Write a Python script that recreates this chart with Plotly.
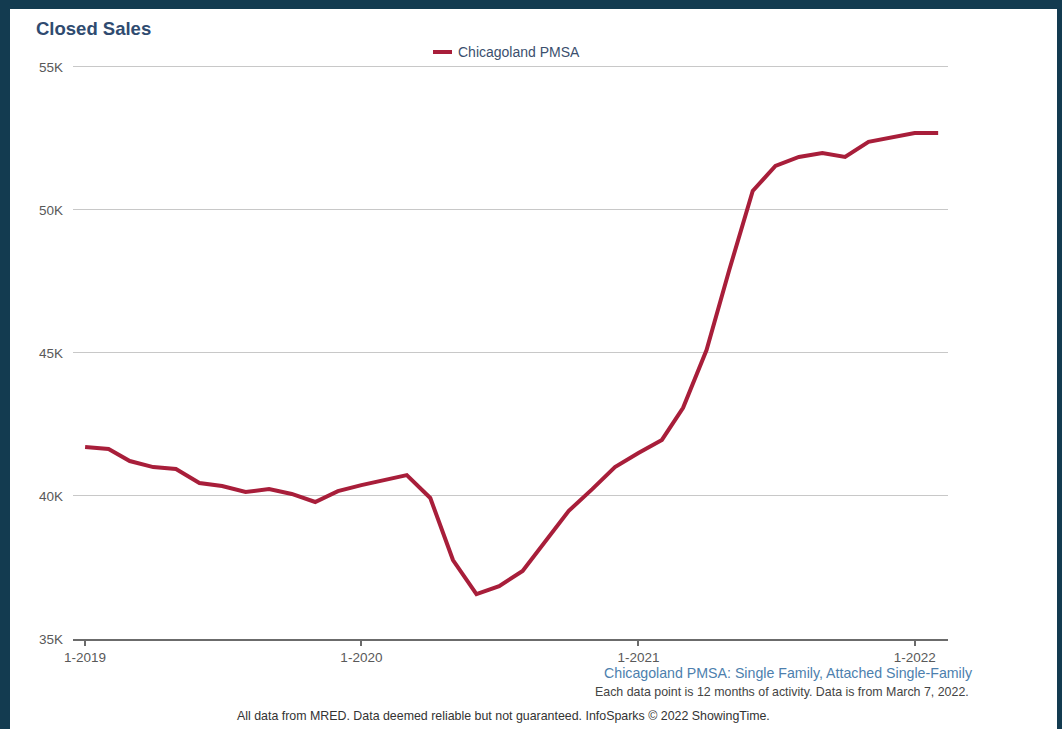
import plotly.graph_objects as go

# Monthly rolling 12-month closed sales, Chicagoland PMSA
months = [
    "2019-01-01", "2019-02-01", "2019-03-01", "2019-04-01", "2019-05-01", "2019-06-01",
    "2019-07-01", "2019-08-01", "2019-09-01", "2019-10-01", "2019-11-01", "2019-12-01",
    "2020-01-01", "2020-02-01", "2020-03-01", "2020-04-01", "2020-05-01", "2020-06-01",
    "2020-07-01", "2020-08-01", "2020-09-01", "2020-10-01", "2020-11-01", "2020-12-01",
    "2021-01-01", "2021-02-01", "2021-03-01", "2021-04-01", "2021-05-01", "2021-06-01",
    "2021-07-01", "2021-08-01", "2021-09-01", "2021-10-01", "2021-11-01", "2021-12-01",
    "2022-01-01", "2022-02-01",
]
closed_sales = [
    41710, 41640, 41220, 41010, 40940, 40450,
    40350, 40140, 40240, 40070, 39790, 40170,
    40380, 40560, 40730, 39930, 37760, 36570,
    36850, 37380, 38460, 39480, 40240, 41010,
    41500, 41960, 43080, 45100, 47900, 50660,
    51540, 51850, 51990, 51850, 52380, 52520,
    52690, 52690,
]
series_name = "Chicagoland PMSA"

y_tick_vals = [35000, 40000, 45000, 50000, 55000]
y_tick_text = ["35K", "40K", "45K", "50K", "55K"]
x_tick_vals = ["2019-01-01", "2020-01-01", "2021-01-01", "2022-01-01"]
x_tick_text = ["1-2019", "1-2020", "1-2021", "1-2022"]

W, H = 1062, 729
ML, MR, MT, MB = 73, 114, 64, 90
PW, PH = W - ML - MR, H - MT - MB


def px_x(p):
    return (p - ML) / PW


def px_y(p):
    return (H - MB - p) / PH


FONT = "Liberation Sans, Arial, sans-serif"
BORDER = "#133b50"
LINE_COLOR = "#a81e3a"

fig = go.Figure()
fig.add_trace(go.Scatter(
    x=months, y=closed_sales, mode="lines", name=series_name,
    line=dict(color=LINE_COLOR, width=4), showlegend=False,
))

fig.update_layout(
    width=W, height=H,
    margin=dict(l=ML, r=MR, t=MT, b=MB),
    paper_bgcolor="white", plot_bgcolor="white",
    font=dict(family=FONT, size=13.5, color="#595959"),
    showlegend=False,
    xaxis=dict(
        type="date",
        range=["2018-12-16", "2022-02-14"],
        tickvals=x_tick_vals, ticktext=x_tick_text,
        showgrid=False, zeroline=False,
        showline=True, linecolor="#6b6b6b", linewidth=2,
        ticks="outside", ticklen=5, tickcolor="#6b6b6b", tickwidth=2,
        tickfont=dict(size=13.5, color="#595959"),
    ),
    yaxis=dict(
        range=[35000, 55100],
        tickvals=y_tick_vals, ticktext=y_tick_text,
        showgrid=True, gridcolor="#c8c8c8", gridwidth=1,
        zeroline=False, showline=False, ticks="",
        ticklabelstandoff=9,
        tickfont=dict(size=13.5, color="#595959"),
    ),
)

# legend swatch and label
fig.add_shape(
    type="line", xref="paper", yref="paper",
    x0=px_x(433), x1=px_x(452), y0=px_y(52), y1=px_y(52),
    line=dict(color=LINE_COLOR, width=4),
)
fig.add_annotation(
    text=series_name, xref="paper", yref="paper",
    x=px_x(456), y=px_y(52), xanchor="left", yanchor="middle",
    showarrow=False, font=dict(size=14, color="#3b4f6e", family=FONT),
)

fig.add_annotation(
    text="<b>Closed Sales</b>", xref="paper", yref="paper",
    x=px_x(34), y=px_y(29), xanchor="left", yanchor="middle",
    showarrow=False, font=dict(size=18.5, color="#2f4b70", family=FONT),
)
fig.add_annotation(
    text="Chicagoland PMSA: Single Family, Attached Single-Family",
    xref="paper", yref="paper", x=px_x(975), y=px_y(673),
    xanchor="right", yanchor="middle", showarrow=False,
    font=dict(size=14.2, color="#4d7fae", family=FONT),
)
fig.add_annotation(
    text="Each data point is 12 months of activity. Data is from March 7, 2022.",
    xref="paper", yref="paper", x=px_x(971), y=px_y(692),
    xanchor="right", yanchor="middle", showarrow=False,
    font=dict(size=12.4, color="#444444", family=FONT),
)
fig.add_annotation(
    text="All data from MRED. Data deemed reliable but not guaranteed. InfoSparks © 2022 ShowingTime.",
    xref="paper", yref="paper", x=px_x(503.5), y=px_y(716),
    xanchor="center", yanchor="middle", showarrow=False,
    font=dict(size=12.4, color="#333333", family=FONT),
)

# dark frame around the white panel
for x0, x1, y0, y1 in [(0, 10, 0, H), (1057, W, 0, H), (0, W, 0, 9)]:
    fig.add_shape(
        type="rect", xref="paper", yref="paper",
        x0=px_x(x0), x1=px_x(x1), y0=px_y(y1), y1=px_y(y0),
        fillcolor=BORDER, line=dict(width=0), layer="above",
    )

fig.write_html("out.html")
